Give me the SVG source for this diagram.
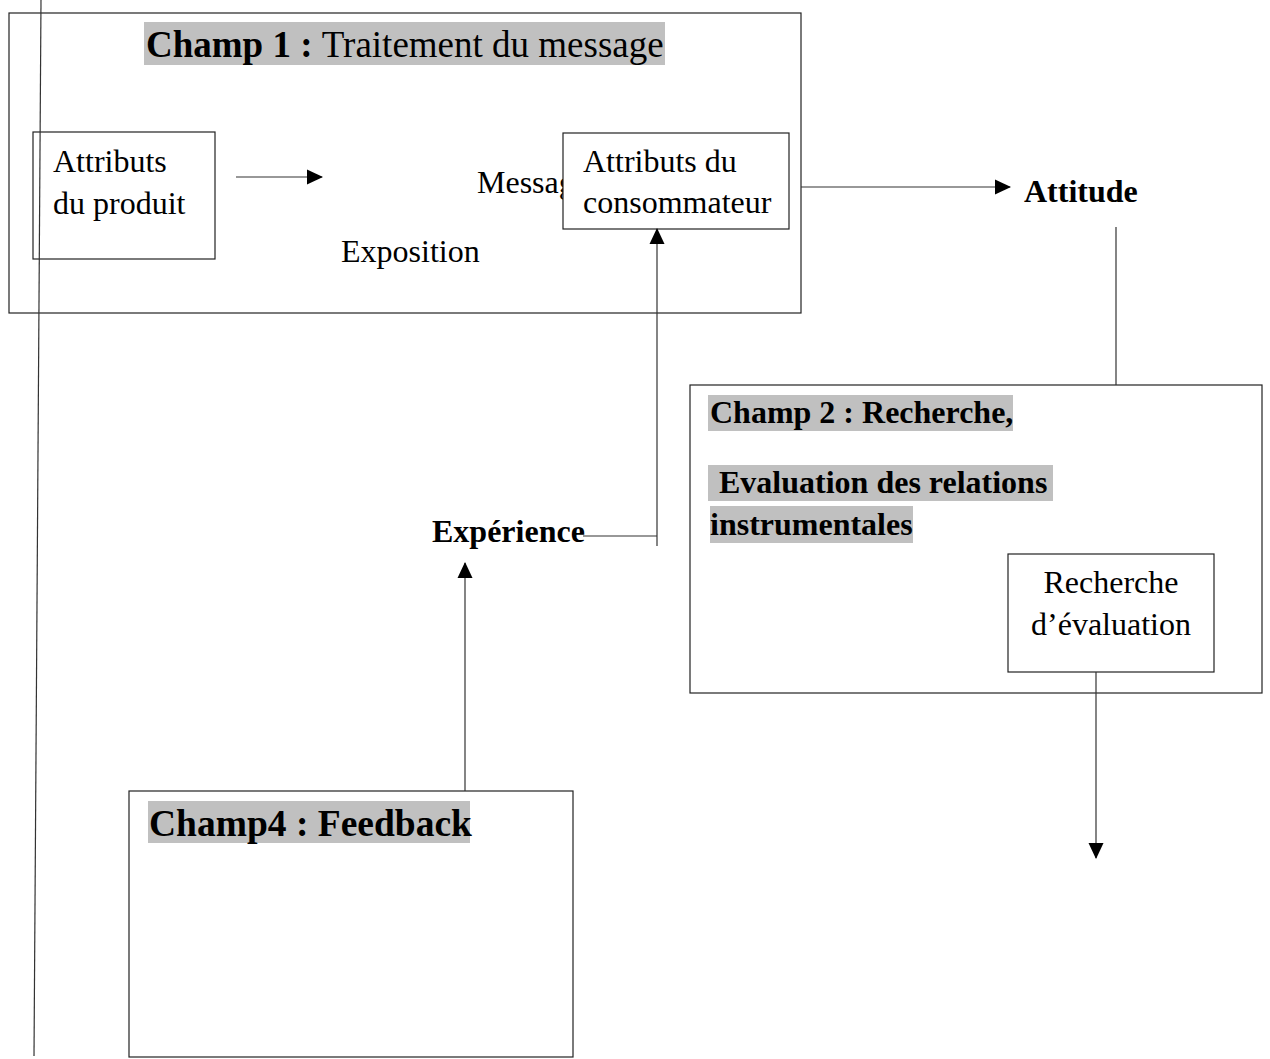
<svg xmlns="http://www.w3.org/2000/svg" width="1270" height="1059" viewBox="0 0 1270 1059">
  <style>
    .box { fill: #ffffff; stroke: #222222; stroke-width: 1.2; }
    .frame { fill: none; stroke: #222222; stroke-width: 1.2; }
    .hl { fill: #c0c0c0; }
    .t { font-family: "Liberation Serif", "Times New Roman", serif; fill: #000000; }
    .r32 { font-size: 32px; }
    .b32 { font-size: 32px; font-weight: bold; }
    .h37 { font-size: 37px; }
    .b { font-weight: bold; }
    .wire { fill: none; stroke: #333333; stroke-width: 1.2; }
  </style>
  <defs>
    <marker id="head" viewBox="0 0 16 16" refX="15" refY="8" markerWidth="16" markerHeight="16" markerUnits="userSpaceOnUse" orient="auto">
      <path d="M0,0.5 L16,8 L0,15.5 Z" fill="#000000"/>
    </marker>
  </defs>

  <rect width="1270" height="1059" fill="#ffffff"/>

  <!-- Champ 1 frame -->
  <g id="champ1">
    <rect class="frame" x="9" y="13" width="792" height="300"/>
    <rect class="hl" x="144" y="22" width="521" height="43"/>
    <text class="t h37" x="146" y="57"><tspan class="b">Champ 1 : </tspan>Traitement du message</text>
  </g>

  <g id="produit">
    <rect class="box" x="33" y="132" width="182" height="127"/>
    <text class="t r32" x="53" y="172">Attributs</text>
    <text class="t r32" x="53" y="214">du produit</text>
  </g>

  <g id="message">
    <text class="t r32" x="477" y="193">Message</text>
  </g>

  <g id="exposition">
    <text class="t r32" x="341" y="262">Exposition</text>
  </g>

  <g id="consommateur">
    <rect class="box" x="563" y="133" width="226" height="96"/>
    <text class="t r32" x="583" y="172">Attributs du</text>
    <text class="t r32" x="583" y="213">consommateur</text>
  </g>

  <g id="attitude">
    <text class="t b32" x="1024" y="202">Attitude</text>
  </g>

  <!-- Champ 2 frame -->
  <g id="champ2">
    <rect class="frame" x="690" y="385" width="572" height="308"/>
    <rect class="hl" x="708" y="395" width="305" height="36"/>
    <text class="t b32" x="710" y="423">Champ 2 : Recherche,</text>
    <rect class="hl" x="708" y="465" width="345" height="36"/>
    <text class="t b32" x="719" y="493">Evaluation des relations</text>
    <rect class="hl" x="710" y="506" width="203" height="37"/>
    <text class="t b32" x="710" y="535">instrumentales</text>
  </g>

  <g id="evaluation">
    <rect class="box" x="1008" y="554" width="206" height="118"/>
    <text class="t r32" x="1111" y="593" text-anchor="middle">Recherche</text>
    <text class="t r32" x="1111" y="635" text-anchor="middle">d’évaluation</text>
  </g>

  <g id="experience">
    <text class="t b32" x="432" y="542">Expérience</text>
  </g>

  <!-- Champ 4 frame -->
  <g id="champ4">
    <rect class="frame" x="129" y="791" width="444" height="266"/>
    <rect class="hl" x="148" y="801" width="322" height="42"/>
    <text class="t h37 b" x="149" y="836" style="font-size:37.5px">Champ4 : Feedback</text>
  </g>

  <!-- Connectors -->
  <g id="connectors">
    <line class="wire" x1="236" y1="177" x2="322" y2="177" marker-end="url(#head)"/>
    <line class="wire" x1="801" y1="187" x2="1010" y2="187" marker-end="url(#head)"/>
    <line class="wire" x1="1116" y1="227" x2="1116" y2="385"/>
    <line class="wire" x1="583" y1="536" x2="657" y2="536"/>
    <line class="wire" x1="657" y1="546" x2="657" y2="229" marker-end="url(#head)"/>
    <line class="wire" x1="465" y1="791" x2="465" y2="563" marker-end="url(#head)"/>
    <line class="wire" x1="1096" y1="672" x2="1096" y2="858" marker-end="url(#head)"/>
    <line class="wire" x1="41" y1="0" x2="34" y2="1056"/>
  </g>
</svg>
